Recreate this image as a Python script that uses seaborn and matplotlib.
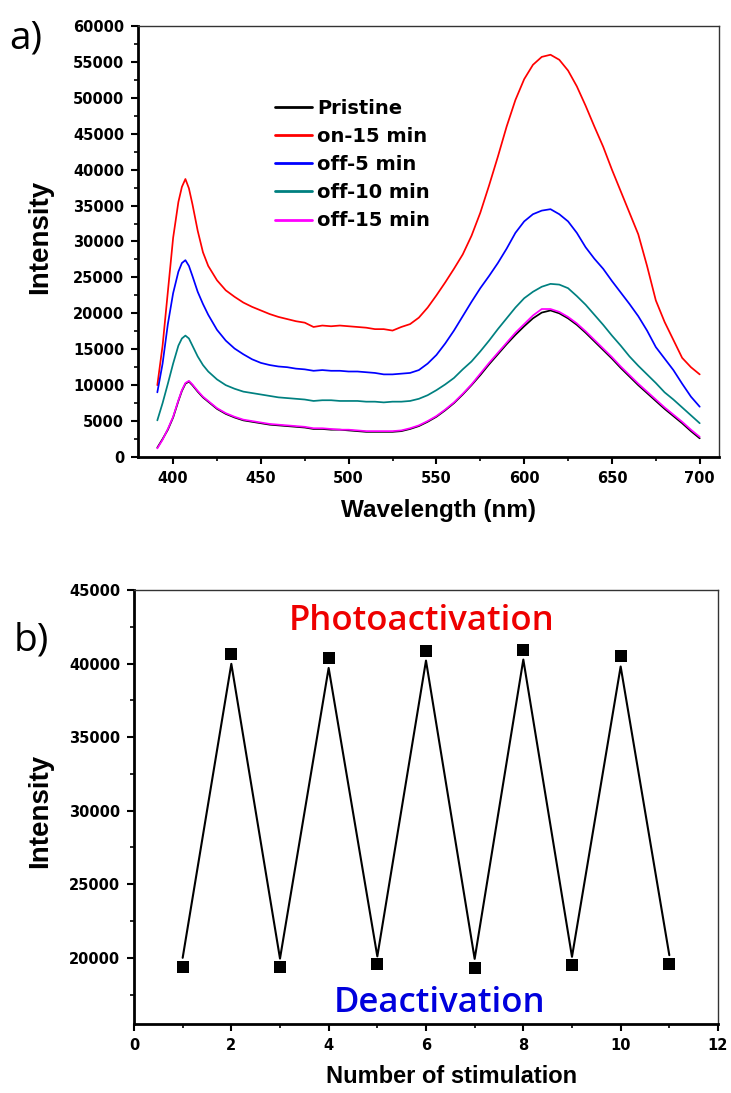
import numpy as np
import pandas as pd
import matplotlib
matplotlib.use("Agg")
import matplotlib.pyplot as plt
import seaborn as sns
from matplotlib.ticker import MultipleLocator

# ---------------- data: panel a ----------------
wavelength = [391, 394, 397, 400, 403, 405, 407, 409, 411, 414, 417, 420,
              425, 430, 435, 440, 445, 450, 455, 460, 465, 470, 475, 480,
              485, 490, 495, 500, 505, 510, 515, 520, 525, 530, 535, 540,
              545, 550, 555, 560, 565, 570, 575, 580, 585, 590, 595, 600,
              605, 610, 615, 620, 625, 630, 635, 640, 645, 650, 655, 660,
              665, 670, 675, 680, 685, 690, 695, 700]

pristine = [1300, 2500, 3800, 5500, 7800, 9200, 10200, 10500, 10000, 9100, 8300, 7700,
            6700, 6000, 5500, 5100, 4900, 4700, 4500, 4400, 4300, 4200, 4100, 3900,
            3900, 3800, 3800, 3700, 3600, 3500, 3500, 3500, 3500, 3600, 3900, 4300,
            4900, 5600, 6500, 7500, 8700, 10000, 11400, 12900, 14300, 15700, 17000, 18200,
            19300, 20100, 20400, 20000, 19300, 18400, 17300, 16100, 14900, 13700, 12400, 11200,
            10000, 8900, 7800, 6700, 5700, 4700, 3600, 2600]

on_15 = [10000, 15500, 23000, 30500, 35500, 37600, 38700, 37400, 35200, 31500, 28500, 26600,
         24600, 23200, 22300, 21500, 20900, 20400, 19900, 19500, 19200, 18900, 18700, 18100,
         18300, 18200, 18300, 18200, 18100, 18000, 17800, 17800, 17600, 18100, 18500, 19400,
         20800, 22500, 24300, 26200, 28200, 30800, 34000, 37800, 41800, 46000, 49700, 52600,
         54600, 55700, 56000, 55300, 53800, 51600, 48900, 46000, 43200, 40000, 37000, 34000,
         31000, 26600, 21800, 18800, 16300, 13800, 12500, 11500]

off_5 = [9000, 13000, 18500, 22800, 25800, 27000, 27400, 26600, 25200, 23000, 21300, 19800,
         17700, 16200, 15100, 14300, 13600, 13100, 12800, 12600, 12500, 12300, 12200, 12000,
         12100, 12000, 12000, 11900, 11900, 11800, 11700, 11500, 11500, 11600, 11700, 12100,
         13000, 14200, 15800, 17600, 19600, 21600, 23500, 25200, 27000, 29000, 31200, 32800,
         33800, 34300, 34500, 33800, 32800, 31200, 29200, 27600, 26200, 24500, 22900, 21300,
         19600, 17600, 15300, 13700, 12100, 10200, 8400, 7000]

off_10 = [5100, 7500, 10200, 13000, 15500, 16500, 16900, 16500, 15500, 14000, 12800, 11900,
          10800, 10000, 9500, 9100, 8900, 8700, 8500, 8300, 8200, 8100, 8000, 7800,
          7900, 7900, 7800, 7800, 7800, 7700, 7700, 7600, 7700, 7700, 7800, 8100,
          8600, 9300, 10100, 11000, 12200, 13300, 14700, 16200, 17800, 19300, 20800, 22100,
          23000, 23700, 24100, 24000, 23500, 22400, 21200, 19800, 18400, 16900, 15500, 14000,
          12700, 11500, 10300, 9000, 8000, 6900, 5800, 4700]

off_15 = [1200, 2400, 3900, 5600, 7900, 9300, 10300, 10600, 10100, 9200, 8400, 7800,
          6800, 6100, 5600, 5200, 5000, 4800, 4600, 4500, 4400, 4300, 4200, 4000,
          4000, 3900, 3800, 3800, 3700, 3600, 3600, 3600, 3600, 3700, 4000, 4400,
          5000, 5700, 6600, 7600, 8800, 10100, 11600, 13100, 14500, 15900, 17300, 18500,
          19700, 20600, 20600, 20200, 19500, 18600, 17500, 16300, 15100, 13900, 12600, 11400,
          10200, 9100, 8000, 6900, 5900, 4900, 3800, 2800]

series_labels = ["Pristine", "on-15 min", "off-5 min", "off-10 min", "off-15 min"]
series_colors = ["#000000", "#ff0000", "#0000ff", "#008080", "#ff00ff"]

# ---------------- data: panel b ----------------
stimulation = [1, 2, 3, 4, 5, 6, 7, 8, 9, 10, 11]
cycle_marker = [19370, 40680, 19390, 40380, 19610, 40880, 19340, 40950, 19500, 40500, 19610]
cycle_line = [20000, 39980, 19950, 39700, 20100, 40200, 19930, 40270, 20070, 39800, 20180]

# ---------------- styling ----------------
sns.set_theme(style="ticks")
plt.rcParams["font.family"] = ["DejaVu Sans"]
plt.rcParams["font.weight"] = "bold"
for key in ("text.color", "axes.labelcolor", "xtick.color", "ytick.color", "axes.edgecolor"):
    plt.rcParams[key] = "black"

fig = plt.figure(figsize=(7.31, 10.93), dpi=100)
ax1 = fig.add_axes([0.1888, 0.5819, 0.7948, 0.3943])
ax2 = fig.add_axes([0.1833, 0.0631, 0.7989, 0.3971])

# panel a
spec = pd.DataFrame({
    "Wavelength": wavelength * 5,
    "Intensity": pristine + on_15 + off_5 + off_10 + off_15,
    "Series": sum([[lab] * len(wavelength) for lab in series_labels], []),
})
sns.lineplot(data=spec, x="Wavelength", y="Intensity", hue="Series",
             hue_order=series_labels, palette=series_colors,
             linewidth=1.25, ax=ax1, legend=True)
ax1.set_xlim(380, 711)
ax1.set_ylim(0, 60000)
ax1.xaxis.set_major_locator(MultipleLocator(50))
ax1.xaxis.set_minor_locator(MultipleLocator(25))
ax1.yaxis.set_major_locator(MultipleLocator(5000))
ax1.yaxis.set_minor_locator(MultipleLocator(2500))
leg = ax1.legend(loc="upper left", bbox_to_anchor=(0.235, 0.831), frameon=False,
                 fontsize=14, handlelength=1.95, handletextpad=0.25,
                 labelspacing=0.47, borderpad=0, borderaxespad=0)
for t in leg.get_texts():
    t.set_fontweight("bold")
    t.set_color("black")
for h in leg.get_lines():
    h.set_linewidth(2)

# panel b
cyc = pd.DataFrame({"Number": stimulation, "Marker": cycle_marker, "Line": cycle_line})
sns.lineplot(data=cyc, x="Number", y="Line", color="black", linewidth=1.5, ax=ax2)
sns.scatterplot(data=cyc, x="Number", y="Marker", marker="s", s=80, color="black",
                edgecolor="black", linewidth=0, ax=ax2, zorder=5)
ax2.set_xlim(0, 12)
ax2.set_ylim(15500, 45000)
ax2.xaxis.set_major_locator(MultipleLocator(2))
ax2.xaxis.set_minor_locator(MultipleLocator(1))
ax2.yaxis.set_major_locator(MultipleLocator(5000))
ax2.yaxis.set_minor_locator(MultipleLocator(2500))
ax2.text(5.92, 42280, "Photoactivation", color="#ee0000", fontsize=25,
         fontweight=600, family=["Open Sans"], ha="center", va="baseline")
ax2.text(6.27, 16320, "Deactivation", color="#0000dd", fontsize=25,
         fontweight=600, family=["Open Sans"], ha="center", va="baseline")

for ax in (ax1, ax2):
    for side in ("left", "bottom"):
        ax.spines[side].set_linewidth(2.0)
        ax.spines[side].set_color("black")
    for side in ("top", "right"):
        ax.spines[side].set_visible(True)
        ax.spines[side].set_linewidth(1.0)
        ax.spines[side].set_color("#333333")
    ax.tick_params(which="major", direction="out", length=5, width=1.5, pad=5,
                   labelsize=10.5, colors="black", top=False, right=False)
    ax.tick_params(which="minor", direction="out", length=3, width=1.2,
                   top=False, right=False)
    for lab in ax.get_xticklabels() + ax.get_yticklabels():
        lab.set_fontweight("bold")
    ax.grid(False)

ax1.set_xlabel("Wavelength (nm)", family=["Liberation Sans"], fontsize=17.5,
               fontweight="bold")
ax1.xaxis.set_label_coords(0.517, -0.098)
ax1.set_ylabel("Intensity", family=["Liberation Sans"], fontsize=20,
               fontweight="bold")
ax1.yaxis.set_label_coords(-0.146, 0.51)
ax2.set_xlabel("Number of stimulation", family=["Liberation Sans"], fontsize=17,
               fontweight="bold")
ax2.xaxis.set_label_coords(0.543, -0.095)
ax2.set_ylabel("Intensity", family=["Liberation Sans"], fontsize=20,
               fontweight="bold")
ax2.yaxis.set_label_coords(-0.139, 0.49)

fig.text(0.012, 0.965, "a)", fontsize=28, family=["Open Sans"], fontweight="normal",
         va="center", ha="left")
fig.text(0.018, 0.414, "b)", fontsize=28, family=["Open Sans"], fontweight="normal",
         va="center", ha="left")

fig.savefig("out.png", dpi=100)
